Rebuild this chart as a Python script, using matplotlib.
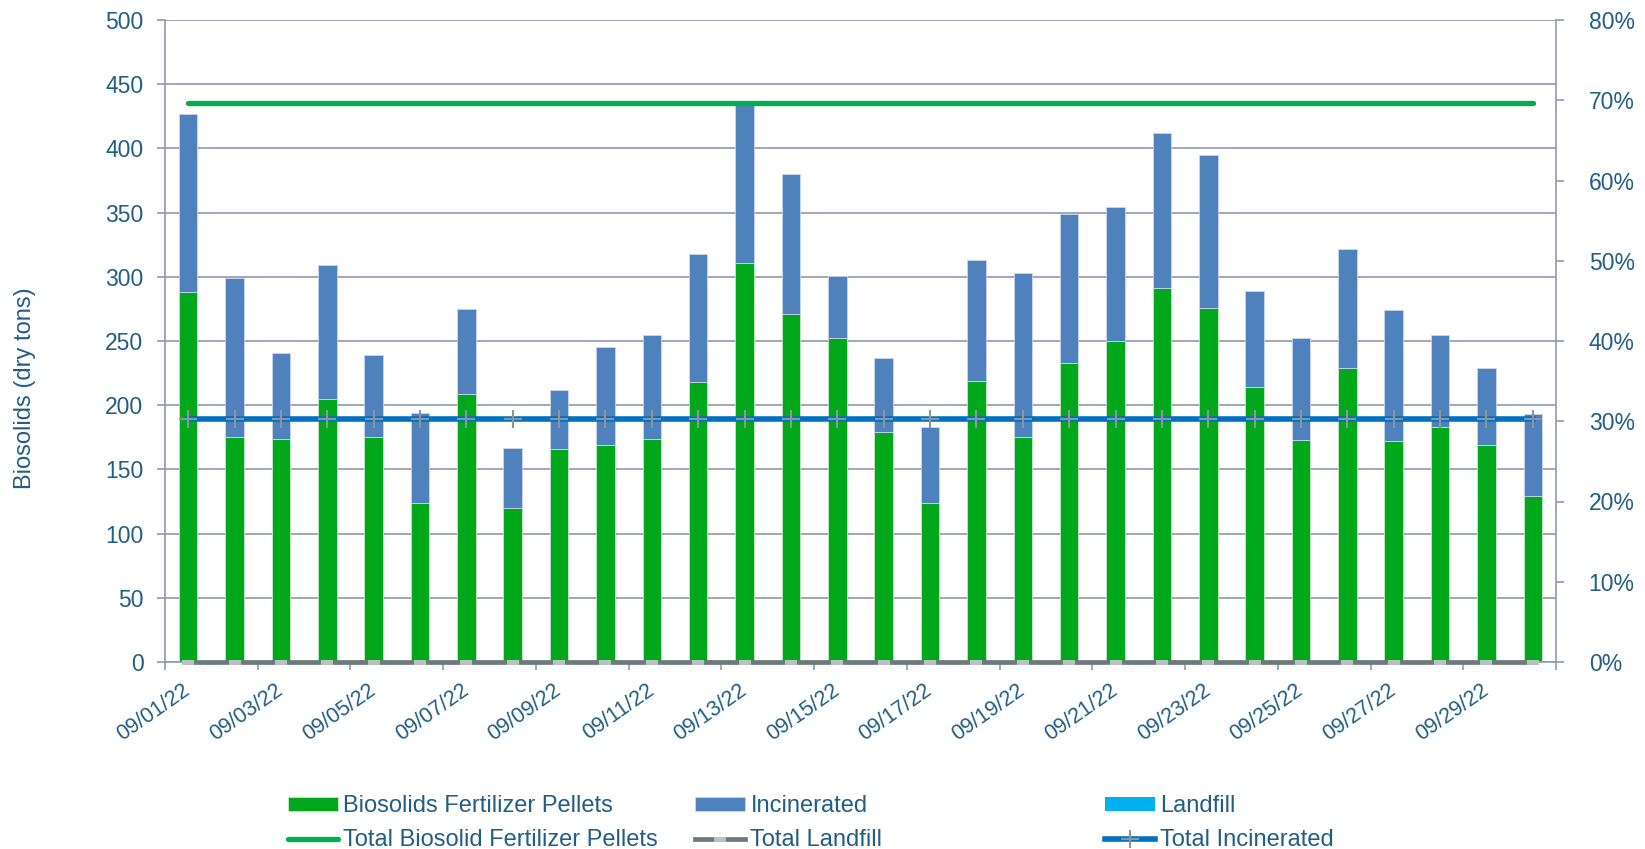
import numpy as np
import matplotlib.pyplot as plt
from matplotlib.ticker import FuncFormatter

plt.rcParams['font.family'] = ['Liberation Sans', 'DejaVu Sans']

# daily values (dry tons)
dates = ["09/%02d/22" % d for d in range(1, 31)]
pellets = [288, 175, 174, 205, 175, 124, 209, 120, 166, 169, 174, 218, 311, 271, 252,
           179, 124, 219, 175, 233, 250, 291, 276, 214, 173, 229, 172, 183, 169, 129]
incinerated = [139, 124, 67, 104, 64, 70, 66, 47, 46, 76, 81, 100, 125, 109, 49,
               58, 59, 94, 128, 116, 104, 121, 119, 75, 79, 93, 102, 72, 60, 64]
landfill = [0] * 30

# monthly share lines (secondary axis)
total_pellets_pct = [0.697] * 30
total_landfill_pct = [0.0] * 30
total_incinerated_pct = [0.303] * 30

TEXT = '#225E84'
GRID = '#8E9AAC'


def make_chart():
    fig = plt.figure(figsize=(16.45, 8.49), dpi=100)
    W, H = 1645, 849
    ax = fig.add_axes([165 / W, 1 - 662 / H, (1556 - 165) / W, (662 - 20) / H])
    x = np.arange(len(dates))
    p = np.array(pellets)
    inc = np.array(incinerated)

    b1 = ax.bar(x, p, width=0.4, color='#02A81C', edgecolor='#c8e6cb', linewidth=0.6,
                label='Biosolids Fertilizer Pellets', zorder=2)
    b2 = ax.bar(x, inc, bottom=p, width=0.4, color='#4F81BD', edgecolor='#c8d8ee',
                linewidth=0.6, label='Incinerated', zorder=2)
    b3 = ax.bar(x, landfill, bottom=p + inc, width=0.4, color='#00B0F0', linewidth=0,
                label='Landfill', zorder=2)

    ax.set_xlim(-0.5, len(dates) - 0.5)
    ax.set_ylim(0, 500)
    ax.set_yticks(np.arange(0, 501, 50))
    ax.yaxis.grid(True, color=GRID, linewidth=1.2)
    ax.set_axisbelow(True)
    for s in ['top', 'right']:
        ax.spines[s].set_visible(False)
    for s in ['left', 'bottom']:
        ax.spines[s].set_color(GRID)
        ax.spines[s].set_linewidth(1.2)
    ax.tick_params(axis='y', length=5.5, width=1.2, color=GRID, pad=10,
                   labelsize=16.5, labelcolor=TEXT)

    # date labels every second day, tick marks on category boundaries
    ax.set_xticks(x[::2])
    ax.set_xticklabels(dates[::2], rotation=35, ha='right', va='center',
                       rotation_mode='anchor')
    ax.tick_params(axis='x', which='major', length=0, pad=19, labelsize=15.5,
                   labelcolor=TEXT)
    ax.set_xticks(np.arange(-0.5, len(dates), 2), minor=True)
    ax.tick_params(axis='x', which='minor', length=5.5, width=1.2, color=GRID)

    ax2 = ax.twinx()
    ax2.set_ylim(0, 0.8)
    ax2.set_yticks(np.arange(0, 0.81, 0.1))
    ax2.yaxis.set_major_formatter(FuncFormatter(lambda v, pos: '%d%%' % round(v * 100)))
    for s in ['top', 'left', 'bottom']:
        ax2.spines[s].set_visible(False)
    ax2.spines['right'].set_color(GRID)
    ax2.spines['right'].set_linewidth(1.2)
    ax2.tick_params(axis='y', length=5.5, width=1.2, color=GRID, pad=18,
                    labelsize=16.5, labelcolor=TEXT)

    l1, = ax2.plot(x, total_pellets_pct, color='#00B050', linewidth=3.8,
                   solid_capstyle='round', label='Total Biosolid Fertilizer Pellets')
    rect = [(-1, -0.45), (1, -0.45), (1, 0.45), (-1, 0.45), (-1, -0.45)]
    l2, = ax2.plot(x, total_landfill_pct, color='#6B7B7B', linewidth=3.4,
                   marker=rect, markersize=8, markerfacecolor='#B9C1C1',
                   markeredgewidth=0, clip_on=False, label='Total Landfill')
    l3, = ax2.plot(x, total_incinerated_pct, color='#0070C0', linewidth=4,
                   marker='+', markersize=13, markeredgewidth=1.5,
                   markeredgecolor='#8C96A0', label='Total Incinerated')

    fig.text(25 / W, 1 - 388 / H, 'Biosolids (dry tons)', rotation=90,
             ha='center', va='center', fontsize=17, color=TEXT)

    # three legend columns, placed like the original
    cols = [(288, [b1, l1]), (695, [b2, l2]), (1105, [b3, l3])]
    for left, handles in cols:
        fig.legend(handles=handles, loc='upper left',
                   bbox_to_anchor=(left / W, 1 - 795 / H), frameon=False,
                   fontsize=17, labelcolor=TEXT, borderpad=0, borderaxespad=0,
                   handlelength=2.1, handleheight=0.55, handletextpad=0.25,
                   labelspacing=0.52)
    return fig


def main():
    fig = make_chart()
    fig.savefig('out.png', dpi=100)


if __name__ == "__main__":
    main()
